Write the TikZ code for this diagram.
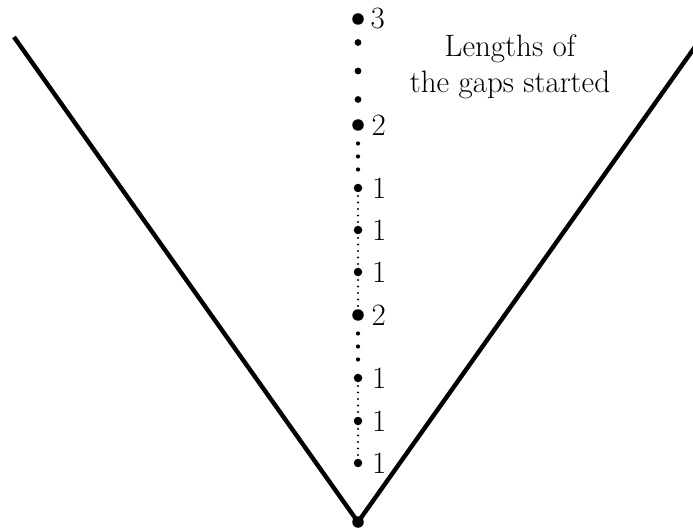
\documentclass[tikz,border=0pt]{standalone}
\begin{document}
\begin{tikzpicture}[x=1pt,y=-1pt,
  bigdot/.style={circle,fill=black,inner sep=0pt,minimum size=11.5pt},
  onedot/.style={circle,fill=black,inner sep=0pt,minimum size=8.5pt},
  lab/.style={anchor=west,inner sep=0pt,font=\fontsize{31}{36}\selectfont},
  cone/.style={line width=4.4pt},
  gapthree/.style={line width=6.8pt,line cap=round,dash pattern=on 0pt off 28.5pt,shorten <=23.5pt,shorten >=25.4pt},
  gaptwo/.style={line width=4.2pt,line cap=round,dash pattern=on 0pt off 13pt,shorten <=18.5pt,shorten >=18.4pt},
  gapone/.style={line width=2.3pt,line cap=round,dash pattern=on 0pt off 6.5pt,shorten <=8pt,shorten >=7.9pt}]
\useasboundingbox (0,0) rectangle (693,529);
\clip (0,0) rectangle (693,529);
\node[bigdot] (v) at (358,522) {};
\coordinate (ltop) at (14,37);
\coordinate (rtop) at (702,37);
\draw[cone] (ltop) -- (v.center) -- (rtop);
\node[bigdot] (d3) at (358,19) {};
\node[bigdot] (d2a) at (358,125) {};
\node[onedot] (d1a) at (358,188) {};
\node[onedot] (d1b) at (358,230) {};
\node[onedot] (d1c) at (358,272) {};
\node[bigdot] (d2b) at (358,315) {};
\node[onedot] (d1d) at (358,378) {};
\node[onedot] (d1e) at (358,421) {};
\node[onedot] (d1f) at (358,463) {};
\node[lab] (l3) at (370.5,19) {3};
\node[lab] (l2a) at (371.5,125) {2};
\node[lab] (l1a) at (372,188) {1};
\node[lab] (l1b) at (372,230) {1};
\node[lab] (l1c) at (372,272) {1};
\node[lab] (l2b) at (371.5,315) {2};
\node[lab] (l1d) at (372,378) {1};
\node[lab] (l1e) at (372,421) {1};
\node[lab] (l1f) at (372,463) {1};
\node[font=\fontsize{31}{36}\selectfont,align=center] (title) at (510,67) {Lengths of\\the gaps started};
\draw[gapthree] (d3.center) -- (d2a.center);
\draw[gaptwo] (d2a.center) -- (d1a.center);
\draw[gapone] (d1a.center) -- (d1b.center);
\draw[gapone] (d1b.center) -- (d1c.center);
\draw[gapone] (d1c.center) -- (d2b.center);
\draw[gaptwo] (d2b.center) -- (d1d.center);
\draw[gapone] (d1d.center) -- (d1e.center);
\draw[gapone] (d1e.center) -- (d1f.center);
\end{tikzpicture}
\end{document}
